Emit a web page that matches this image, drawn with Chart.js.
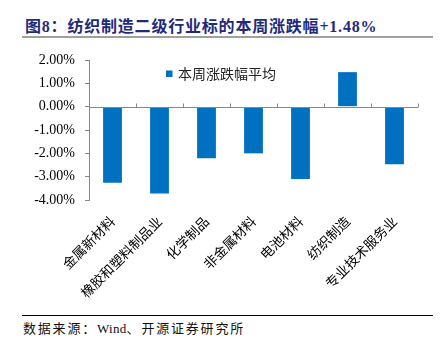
<!DOCTYPE html>
<html>
<head>
<meta charset="utf-8">
<script src="https://cdn.jsdelivr.net/npm/chart.js@4.4.1/dist/chart.umd.min.js"></script>
<style>
  html, body { margin: 0; padding: 0; background: #fff; }
  #pagina { position: relative; width: 443px; height: 354px; overflow: hidden; }
  #titulo { position: absolute; left: 25px; top: 13px; font: bold 16px "Liberation Serif", "Noto Sans CJK SC"; color: #1f2a7c; white-space: nowrap; letter-spacing: 0.8px; }
  #linhaTitulo { position: absolute; left: 22px; top: 36px; width: 411px; height: 2px; background: #a0a0a0; }
  #grafico { position: absolute; left: 0; top: 40px; }
  #linhaFonte { position: absolute; left: 22px; top: 315px; width: 411px; height: 1px; background: #000; }
  #fonte { position: absolute; left: 23px; top: 318px; font: 13px "Liberation Serif", "Noto Sans CJK SC"; color: #111; white-space: nowrap; letter-spacing: 1.8px; }
  #fonte span { letter-spacing: 0.3px; }
</style>
</head>
<body>
<div id="pagina">
  <div id="titulo">图8：纺织制造二级行业标的本周涨跌幅+1.48%</div>
  <div id="linhaTitulo"></div>
  <canvas id="grafico" width="443" height="275"></canvas>
  <div id="linhaFonte"></div>
  <div id="fonte">数据来源：<span>Wind</span>、开源证券研究所</div>
</div>
<script>
// Dados do gráfico
const categorias = ['金属新材料', '橡胶和塑料制品业', '化学制品', '非金属材料', '电池材料', '纺织制造', '专业技术服务业'];
const valores = [-3.26, -3.72, -2.21, -2.0, -3.1, 1.48, -2.47];
const rotuloSerie = '本周涨跌幅平均';
const limitesY = [-4, 2];

const corBarra = '#0070c0';

// Linha do zero com as marcas entre categorias
const linhaZero = {
  id: 'linhaZero',
  afterDatasetsDraw(chart) {
    const { ctx, chartArea, scales: { x, y } } = chart;
    const y0 = Math.round(y.getPixelForValue(0)) + 0.5;
    const passo = x.width / categorias.length;
    ctx.save();
    ctx.strokeStyle = '#888';
    ctx.lineWidth = 1;
    ctx.beginPath();
    ctx.moveTo(chartArea.left, y0);
    ctx.lineTo(chartArea.right, y0);
    for (let i = 1; i <= categorias.length; i++) {
      const xb = Math.round(x.left + i * passo) + 0.5;
      ctx.moveTo(xb, y0);
      ctx.lineTo(xb, y0 - 4);
    }
    ctx.stroke();
    ctx.restore();
  }
};

// Legenda dentro da área do gráfico
const legendaInterna = {
  id: 'legendaInterna',
  afterDraw(chart) {
    const { ctx, chartArea } = chart;
    const x0 = chartArea.left + 77;
    const yc = chartArea.top + 14;
    ctx.save();
    ctx.fillStyle = corBarra;
    ctx.fillRect(x0, yc - 3.5, 6.5, 6.5);
    ctx.fillStyle = '#222';
    ctx.font = '14px "Noto Sans CJK SC"';
    ctx.textBaseline = 'middle';
    ctx.fillText(chart.data.datasets[0].label, x0 + 12, yc);
    ctx.restore();
  }
};

const ctx = document.getElementById('grafico').getContext('2d');
new Chart(ctx, {
  type: 'bar',
  data: {
    labels: categorias,
    datasets: [{
      label: rotuloSerie,
      data: valores,
      backgroundColor: corBarra,
      barPercentage: 0.4,
      categoryPercentage: 1
    }]
  },
  options: {
    responsive: false,
    animation: false,
    layout: { padding: { left: 0, right: 25, top: 20, bottom: 0 } },
    plugins: {
      legend: { display: false },
      tooltip: { enabled: false }
    },
    scales: {
      x: {
        grid: { display: false },
        border: { display: false },
        ticks: {
          autoSkip: false,
          maxRotation: 45,
          minRotation: 45,
          padding: 5,
          color: '#000',
          font: { family: '"Noto Sans CJK SC"', size: 13.5 }
        },
        afterFit: (s) => { s.height = 115; }
      },
      y: {
        min: limitesY[0],
        max: limitesY[1],
        grid: { drawOnChartArea: false, drawTicks: true, tickLength: 4, color: '#888' },
        border: { color: '#888' },
        ticks: {
          stepSize: 1,
          padding: 10,
          color: '#000',
          font: { family: '"Liberation Serif"', size: 14 },
          callback: (v) => v.toFixed(2) + '%'
        },
        afterFit: (s) => { s.width = 89; }
      }
    }
  },
  plugins: [linhaZero, legendaInterna]
});
</script>
</body>
</html>
